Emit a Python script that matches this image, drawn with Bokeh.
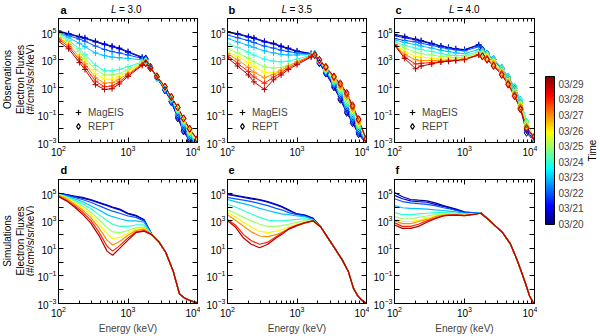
import math
from bokeh.plotting import figure
from bokeh.models import (ColumnDataSource, LinearColorMapper, ColorBar, FixedTicker, LogAxis,
                          Label, Legend, LegendItem, Range1d, AllLabels)
from bokeh.layouts import row, column
from bokeh.transform import transform
from bokeh.embed import file_html
from bokeh.resources import INLINE

FONT = "Liberation Sans"

# ---------------- data ----------------
days = [20, 21, 22, 23, 24, 25, 26, 27, 28, 29]
cb_ticks = [20, 21, 22, 23, 24, 25, 26, 27, 28, 29]
cb_labels = ["03/20", "03/21", "03/22", "03/23", "03/24", "03/25", "03/26", "03/27", "03/28", "03/29"]
time_low, time_high = 20, 29.5

E_mageis = [100, 140, 200, 240, 340, 460, 590, 750, 1000, 1600]
E_rept = [1800, 2100, 2600, 3400, 4200, 5200, 6300, 7700, 9900]
E_sim_lo = [100, 130, 170, 220, 290, 380, 500, 600, 760, 1000, 1300, 1700]
E_sim_hi = [2200, 2800, 3500, 4500, 5500, 6500, 7500, 8500, 10000]

# log10 flux, one row per day (03/20 ... 03/29)
a_mageis = [
    [5.1, 4.9, 4.7, 4.6, 4.35, 4.15, 4.0, 3.85, 3.6, 3.2],
    [5.05, 4.85, 4.65, 4.55, 4.3, 4.1, 3.95, 3.8, 3.55, 3.15],
    [5.0, 4.75, 4.5, 4.35, 4.0, 3.75, 3.6, 3.5, 3.35, 3.1],
    [4.95, 4.6, 4.2, 3.95, 3.5, 3.3, 3.2, 3.15, 3.1, 3.0],
    [4.9, 4.4, 3.8, 3.4, 2.6, 2.2, 2.2, 2.3, 2.5, 2.85],
    [4.8, 4.3, 3.6, 3.1, 2.3, 1.9, 1.9, 2.0, 2.3, 2.8],
    [4.7, 4.2, 3.4, 2.9, 2.0, 1.6, 1.6, 1.8, 2.15, 2.75],
    [4.6, 4.1, 3.2, 2.7, 1.7, 1.3, 1.35, 1.6, 2.0, 2.7],
    [4.5, 3.95, 3.0, 2.5, 1.45, 1.05, 1.1, 1.4, 1.9, 2.65],
    [4.35, 3.8, 2.8, 2.3, 1.2, 0.85, 0.9, 1.25, 1.8, 2.6],
]
a_rept = [
    [3.1, 2.5, 1.75, 0.8, -0.05, -1.25, -2.2, -2.9, -3.3],
    [3.05, 2.45, 1.7, 0.8, -0.05, -1.15, -2.1, -2.8, -3.2],
    [3.0, 2.45, 1.75, 0.85, 0.0, -1.05, -1.95, -2.7, -3.1],
    [2.95, 2.4, 1.75, 0.9, 0.1, -0.9, -1.8, -2.55, -3.05],
    [2.9, 2.4, 1.75, 0.95, 0.2, -0.7, -1.6, -2.4, -3.0],
    [2.85, 2.4, 1.78, 1.0, 0.25, -0.6, -1.45, -2.25, -2.95],
    [2.82, 2.4, 1.8, 1.02, 0.28, -0.5, -1.35, -2.15, -2.9],
    [2.8, 2.4, 1.8, 1.05, 0.3, -0.45, -1.3, -2.05, -2.8],
    [2.77, 2.4, 1.8, 1.05, 0.3, -0.45, -1.25, -2.0, -2.8],
    [2.74, 2.4, 1.8, 1.05, 0.3, -0.45, -1.25, -2.0, -2.75],
]
b_mageis = [
    [5.05, 4.9, 4.7, 4.6, 4.35, 4.2, 4.0, 3.85, 3.65, 3.45],
    [5.0, 4.85, 4.65, 4.55, 4.3, 4.15, 3.95, 3.8, 3.6, 3.45],
    [4.8, 4.6, 4.4, 4.25, 4.0, 3.85, 3.7, 3.6, 3.5, 3.42],
    [4.55, 4.3, 4.05, 3.9, 3.65, 3.5, 3.4, 3.35, 3.35, 3.4],
    [4.2, 3.9, 3.55, 3.35, 3.05, 2.9, 2.85, 2.9, 3.05, 3.35],
    [3.8, 3.5, 3.1, 2.85, 2.5, 2.4, 2.45, 2.6, 2.85, 3.3],
    [3.6, 3.25, 2.8, 2.5, 2.1, 2.1, 2.25, 2.45, 2.75, 3.3],
    [3.45, 3.0, 2.45, 2.1, 1.7, 1.95, 2.25, 2.55, 2.85, 3.3],
    [3.3, 2.75, 2.15, 1.75, 1.3, 1.75, 2.05, 2.4, 2.75, 3.25],
    [3.15, 2.55, 1.9, 1.4, 0.85, 1.55, 1.9, 2.3, 2.65, 3.2],
]
b_rept = [
    [3.4, 2.75, 2.0, 1.0, 0.1, -0.85, -1.6, -2.4, -3.1],
    [3.4, 2.8, 2.05, 1.1, 0.2, -0.75, -1.5, -2.3, -3.0],
    [3.4, 2.85, 2.1, 1.2, 0.35, -0.6, -1.35, -2.2, -2.95],
    [3.4, 2.9, 2.2, 1.3, 0.5, -0.4, -1.2, -2.05, -2.9],
    [3.4, 2.9, 2.25, 1.4, 0.65, -0.2, -1.0, -1.9, -2.9],
    [3.38, 2.92, 2.3, 1.5, 0.8, 0.0, -0.8, -1.75, -2.85],
    [3.38, 2.95, 2.35, 1.6, 0.95, 0.2, -0.6, -1.6, -2.8],
    [3.36, 2.95, 2.4, 1.7, 1.1, 0.35, -0.5, -1.45, -2.8],
    [3.35, 3.0, 2.45, 1.75, 1.2, 0.5, -0.4, -1.35, -2.75],
    [3.35, 3.0, 2.5, 1.8, 1.3, 0.6, -0.3, -1.3, -2.75],
]
c_mageis = [
    [4.85, 4.7, 4.5, 4.4, 4.2, 4.0, 3.9, 3.8, 3.75, 4.1],
    [4.75, 4.6, 4.45, 4.35, 4.15, 4.0, 3.88, 3.78, 3.72, 4.05],
    [4.55, 4.4, 4.3, 4.2, 4.05, 3.9, 3.8, 3.72, 3.65, 3.95],
    [4.45, 4.25, 4.1, 4.0, 3.85, 3.7, 3.6, 3.5, 3.45, 3.75],
    [4.3, 4.05, 3.85, 3.75, 3.6, 3.45, 3.35, 3.3, 3.3, 3.6],
    [4.2, 3.85, 3.55, 3.45, 3.35, 3.25, 3.2, 3.15, 3.2, 3.5],
    [4.15, 3.6, 3.25, 3.2, 3.1, 3.05, 3.05, 3.05, 3.1, 3.45],
    [4.1, 3.4, 3.0, 2.95, 2.95, 2.95, 2.98, 3.0, 3.05, 3.4],
    [4.1, 3.2, 2.7, 2.75, 2.8, 2.85, 2.9, 2.95, 3.0, 3.35],
    [4.05, 3.1, 2.35, 2.55, 2.7, 2.85, 2.9, 2.95, 3.05, 3.35],
]
c_rept = [
    [3.75, 3.45, 3.0, 2.3, 1.55, 0.65, -0.5, -2.3, -2.9],
    [3.72, 3.45, 3.0, 2.35, 1.6, 0.75, -0.35, -2.1, -2.85],
    [3.7, 3.45, 3.05, 2.4, 1.7, 0.9, -0.1, -1.8, -2.8],
    [3.65, 3.45, 3.05, 2.45, 1.8, 1.05, 0.1, -1.5, -2.7],
    [3.55, 3.4, 3.0, 2.4, 1.75, 1.0, 0.05, -1.5, -2.7],
    [3.45, 3.3, 2.9, 2.3, 1.6, 0.8, -0.15, -1.6, -2.7],
    [3.35, 3.2, 2.8, 2.15, 1.45, 0.65, -0.3, -1.75, -2.65],
    [3.3, 3.1, 2.7, 2.05, 1.35, 0.5, -0.45, -1.85, -2.65],
    [3.25, 3.05, 2.6, 1.95, 1.25, 0.4, -0.55, -1.95, -2.6],
    [3.25, 3.0, 2.55, 1.9, 1.2, 0.35, -0.6, -2.0, -2.6],
]
d_sim_lo = [
    [5.0, 4.9, 4.8, 4.7, 4.55, 4.35, 4.15, 4.0, 3.85, 3.55, 3.4, 3.1],
    [5.0, 4.9, 4.75, 4.65, 4.5, 4.3, 4.1, 3.95, 3.8, 3.5, 3.35, 3.05],
    [5.0, 4.85, 4.7, 4.55, 4.35, 4.1, 3.85, 3.7, 3.55, 3.35, 3.25, 3.0],
    [4.95, 4.8, 4.6, 4.4, 4.1, 3.8, 3.45, 3.3, 3.15, 3.0, 3.0, 2.9],
    [4.95, 4.75, 4.5, 4.25, 3.9, 3.45, 3.0, 2.75, 2.6, 2.6, 2.7, 2.7],
    [4.9, 4.7, 4.4, 4.1, 3.65, 3.1, 2.5, 2.2, 2.15, 2.3, 2.5, 2.55],
    [4.9, 4.65, 4.3, 3.95, 3.45, 2.8, 2.05, 1.7, 1.8, 2.1, 2.4, 2.45],
    [4.85, 4.6, 4.2, 3.8, 3.25, 2.5, 1.6, 1.25, 1.5, 1.95, 2.3, 2.4],
    [4.8, 4.5, 4.1, 3.65, 3.05, 2.2, 1.15, 0.8, 1.2, 1.75, 2.2, 2.3],
    [4.75, 4.45, 4.0, 3.5, 2.85, 1.95, 0.8, 0.5, 1.0, 1.6, 2.15, 2.25],
]
d_sim_hi = [2.0, 1.45, 0.7, -0.7, -2.3, -2.6, -2.75, -2.85, -2.95]
e_sim_lo = [
    [4.95, 4.85, 4.75, 4.65, 4.55, 4.4, 4.2, 4.05, 3.8, 3.5, 3.42, 3.2],
    [4.9, 4.8, 4.7, 4.6, 4.5, 4.35, 4.15, 4.0, 3.75, 3.5, 3.4, 3.15],
    [4.7, 4.6, 4.5, 4.4, 4.25, 4.1, 3.9, 3.8, 3.6, 3.45, 3.35, 3.1],
    [4.55, 4.4, 4.25, 4.1, 3.9, 3.75, 3.6, 3.5, 3.45, 3.35, 3.3, 3.1],
    [4.2, 4.0, 3.75, 3.5, 3.25, 3.05, 3.0, 3.0, 3.05, 3.1, 3.15, 3.05],
    [3.8, 3.55, 3.25, 3.0, 2.75, 2.6, 2.6, 2.65, 2.75, 2.9, 3.0, 3.0],
    [3.6, 3.3, 2.9, 2.55, 2.25, 2.15, 2.25, 2.35, 2.55, 2.75, 2.9, 3.0],
    [3.45, 3.05, 2.6, 2.2, 1.9, 1.85, 2.0, 2.15, 2.4, 2.65, 2.85, 3.0],
    [3.1, 2.7, 2.0, 1.55, 1.3, 1.45, 1.85, 2.1, 2.45, 2.7, 2.88, 3.0],
    [3.0, 2.55, 1.75, 1.3, 1.05, 1.3, 1.75, 2.0, 2.4, 2.65, 2.85, 3.0],
]
e_sim_hi = [2.55, 1.75, 1.0, 0.15, -0.7, -1.9, -2.45, -2.75, -3.0]
f_sim_lo = [
    [5.05, 4.75, 4.55, 4.5, 4.45, 4.3, 4.1, 4.0, 3.85, 3.65, 3.6, 3.6],
    [4.85, 4.6, 4.45, 4.4, 4.35, 4.2, 4.05, 3.95, 3.8, 3.62, 3.6, 3.6],
    [4.6, 4.4, 4.3, 4.25, 4.2, 4.1, 3.95, 3.88, 3.75, 3.6, 3.58, 3.6],
    [4.1, 3.95, 3.9, 3.88, 3.85, 3.8, 3.75, 3.7, 3.65, 3.55, 3.55, 3.58],
    [3.6, 3.45, 3.45, 3.5, 3.55, 3.6, 3.6, 3.6, 3.55, 3.5, 3.52, 3.55],
    [3.3, 3.15, 3.15, 3.25, 3.35, 3.45, 3.5, 3.5, 3.5, 3.45, 3.5, 3.55],
    [3.1, 2.95, 2.95, 3.05, 3.2, 3.35, 3.45, 3.45, 3.45, 3.42, 3.48, 3.55],
    [3.0, 2.8, 2.8, 2.95, 3.1, 3.3, 3.42, 3.45, 3.45, 3.4, 3.48, 3.55],
    [2.85, 2.6, 2.6, 2.75, 3.0, 3.2, 3.38, 3.42, 3.42, 3.38, 3.45, 3.55],
    [2.7, 2.45, 2.45, 2.6, 2.9, 3.15, 3.35, 3.4, 3.42, 3.38, 3.45, 3.55],
]
f_sim_hi = [3.1, 2.6, 2.15, 1.35, 0.3, -0.7, -1.6, -2.45, -3.1]

titles_top = ["3.0", "3.5", "4.0"]
letters_top = ["a", "b", "c"]
letters_bot = ["d", "e", "f"]
row_names = ["Observations", "Simulations"]

# ---------------- style helpers ----------------
def jet_palette(n=256):
    out = []
    for i in range(n):
        x = i / (n - 1)
        r = min(max(1.5 - abs(4 * x - 3), 0), 1)
        g = min(max(1.5 - abs(4 * x - 2), 0), 1)
        b = min(max(1.5 - abs(4 * x - 1), 0), 1)
        out.append("#%02x%02x%02x" % (int(r * 255 + .5), int(g * 255 + .5), int(b * 255 + .5)))
    return out

mapper = LinearColorMapper(palette=jet_palette(), low=time_low, high=time_high)

x_major = [100, 1000, 10000]
x_minor = [m * 10 ** k for k in (2, 3) for m in range(2, 10)]
y_major = [1e-3, 1e-1, 1e1, 1e3, 1e5]
y_minor = [1e-2, 1e0, 1e2, 1e4, 1e6]


def style_axis(ax, labels, minor_len):
    ax.major_tick_in = 5
    ax.major_tick_out = 0
    ax.minor_tick_in = minor_len
    ax.minor_tick_out = 0
    ax.axis_line_color = "black"
    ax.major_tick_line_color = "black"
    ax.minor_tick_line_color = "black"
    ax.major_label_text_font = FONT
    ax.major_label_text_color = "black"
    if labels:
        ax.major_label_text_font_size = "10px"
    else:
        ax.major_label_text_font_size = "1px"
        ax.major_label_text_alpha = 0
        ax.major_label_standoff = 0


def make_panel(width, height, left, bottom, xlabel):
    p = figure(width=width, height=height, x_axis_type="log", y_axis_type="log",
               x_range=Range1d(100, 10000), y_range=Range1d(1e-3, 1e6),
               toolbar_location=None, output_backend="svg",
               min_border_left=left, min_border_right=3, min_border_top=2,
               min_border_bottom=bottom)
    p.grid.visible = False
    p.outline_line_color = "black"
    bx = p.below[0]
    ly = p.left[0]
    bx.ticker = FixedTicker(ticks=x_major, minor_ticks=x_minor)
    ly.ticker = FixedTicker(ticks=y_major, minor_ticks=y_minor)
    style_axis(bx, True, 3)
    style_axis(ly, True, 5)
    bx.major_label_standoff = 2
    ly.major_label_standoff = 2
    ra = LogAxis(ticker=FixedTicker(ticks=y_major, minor_ticks=y_minor))
    style_axis(ra, False, 5)
    p.add_layout(ra, "right")
    ta = LogAxis(ticker=FixedTicker(ticks=x_major, minor_ticks=x_minor))
    style_axis(ta, False, 3)
    p.add_layout(ta, "above")
    if xlabel:
        bx.axis_label = "Energy (keV)"
        bx.axis_label_text_font = FONT
        bx.axis_label_text_font_size = "10px"
        bx.axis_label_text_font_style = "normal"
        bx.axis_label_standoff = 3
    return p


def strip(w, h):
    s = figure(width=w, height=h, x_range=Range1d(0, w), y_range=Range1d(0, h),
               toolbar_location=None, output_backend="svg", x_axis_location=None,
               y_axis_location=None, min_border=0, outline_line_color=None)
    s.grid.visible = False
    return s


def add_text(p, text, x, y, size="10px", style="normal", align="left",
             baseline="middle", angle=0.0):
    p.add_layout(Label(x=x, y=y, text=text, text_font=FONT,
                       text_font_size=size, text_font_style=style, text_align=align,
                       text_baseline=baseline, angle=angle, text_color="black"))


def add_obs(p, mag, rept):
    xs, ys, ts = [], [], []
    mx, my, mt, rx, ry, rt = [], [], [], [], [], []
    for d, m, r in zip(days, mag, rept):
        xs.append(E_mageis + E_rept)
        ys.append([10 ** v for v in m + r])
        ts.append(d)
        mx += E_mageis; my += [10 ** v for v in m]; mt += [d] * len(m)
        rx += E_rept; ry += [10 ** v for v in r]; rt += [d] * len(r)
    p.multi_line(xs="xs", ys="ys", source=ColumnDataSource(dict(xs=xs, ys=ys, t=ts)),
                 line_color=transform("t", mapper), line_width=1)
    p.scatter(x="x", y="y", source=ColumnDataSource(dict(x=mx, y=my, t=mt)), marker="cross",
              size=6, line_color=transform("t", mapper), line_width=1)
    p.scatter(x="x", y="y", source=ColumnDataSource(dict(x=rx, y=ry, t=rt)), marker="diamond",
              size=7, fill_color=None, line_color=transform("t", mapper), line_width=1)


def add_sim(p, lo, hi):
    xs, ys, ts = [], [], []
    for d, row_lo in zip(days, lo):
        xs.append(E_sim_lo + E_sim_hi)
        ys.append([10 ** v for v in row_lo + hi])
        ts.append(d)
    p.multi_line(xs="xs", ys="ys", source=ColumnDataSource(dict(xs=xs, ys=ys, t=ts)),
                 line_color=transform("t", mapper), line_width=1.2)


def add_legend(p, xoff):
    r1 = p.scatter(x=[1e-9], y=[1e-9], marker="cross", size=6, line_color="black", line_width=1.2)
    r2 = p.scatter(x=[1e-9], y=[1e-9], marker="diamond", size=7, fill_color=None,
                   line_color="black", line_width=1.2)
    lg = Legend(items=[LegendItem(label="MagEIS", renderers=[r1]),
                       LegendItem(label="REPT", renderers=[r2])],
                location=(xoff, 9), orientation="vertical", border_line_color=None,
                background_fill_alpha=0, padding=0, margin=0, spacing=0,
                glyph_width=14, glyph_height=14, label_height=14, label_standoff=3,
                label_text_font=FONT, label_text_font_size="10px")
    p.add_layout(lg)


# ---------------- geometry ----------------
LEFT_W = 34
widths = [166, 169, 168]
lefts = [21, 27, 25]
frame_w = [142, 139, 140]
frame_left = [55, 227, 394]      # absolute x of each frame
CENTER_W = sum(widths)
TOP_H, ROW1_H, MID_H, ROW2_H = 16, 145, 16, 159

obs = [(a_mageis, a_rept), (b_mageis, b_rept), (c_mageis, c_rept)]
sims = [(d_sim_lo, d_sim_hi), (e_sim_lo, e_sim_hi), (f_sim_lo, f_sim_hi)]
leg_x = [13, 8, 11]
let_x = [5, 1, 1]

top_strip = strip(CENTER_W, TOP_H)
mid_strip = strip(CENTER_W, MID_H)
left_strip = strip(LEFT_W, 336)
cbf = strip(63, 336)

top_figs, bot_figs = [], []
for i in range(3):
    p = make_panel(widths[i], ROW1_H, lefts[i], 19, False)
    add_obs(p, *obs[i])
    add_legend(p, leg_x[i])
    top_figs.append(p)
    q = make_panel(widths[i], ROW2_H, lefts[i], 32, True)
    add_sim(q, *sims[i])
    bot_figs.append(q)

    fx = frame_left[i] - LEFT_W
    cx = fx + frame_w[i] / 2
    add_text(top_strip, letters_top[i], fx + let_x[i], 7, size="11px", style="bold")
    add_text(top_strip, "L", cx - 15.5, 7.5, style="italic")
    add_text(top_strip, "= " + titles_top[i], cx - 7.5, 7.5)
    add_text(mid_strip, letters_bot[i], fx + let_x[i], 8, size="11px", style="bold")

half = math.pi / 2
for name, yc in zip(row_names, [257, 95.5]):
    add_text(left_strip, name, 6.5, yc, align="center", angle=half)
    add_text(left_strip, "Electron Fluxes", 19.5, yc, align="center", angle=half)
    add_text(left_strip, "(#/cm\u00b2/s/sr/keV)", 29.5, yc, align="center", angle=half)

# ---------------- colour bar ----------------
cb = ColorBar(color_mapper=mapper, ticker=FixedTicker(ticks=cb_ticks),
              major_label_overrides={t: s for t, s in zip(cb_ticks, cb_labels)},
              major_label_policy=AllLabels(),
              width=9, height=148, padding=0, location=(8, 112), label_standoff=4,
              major_label_text_font=FONT, major_label_text_font_size="10px",
              bar_line_color="black", major_tick_line_color=None, minor_tick_line_color=None,
              background_fill_alpha=0, border_line_color=None)
cbf.add_layout(cb, "center")
add_text(cbf, "Time", 55, 186, align="center", angle=half)

center = column(top_strip, row(*top_figs), mid_strip, row(*bot_figs))
layout = row(left_strip, center, cbf)
open("out.html", "w").write(file_html(layout, INLINE))
